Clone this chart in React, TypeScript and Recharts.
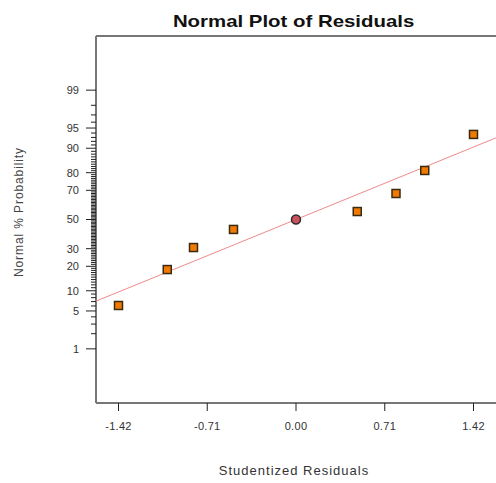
import React from 'react'
import { ScatterChart, Scatter, XAxis, YAxis, ReferenceLine } from 'recharts'

// studentized residuals and their normal % probability
const RESIDUALS = [-1.42, -1.03, -0.82, -0.5, 0.0, 0.49, 0.8, 1.03, 1.42]
const NORMAL_PCT = [6.1, 18.4, 30.7, 42.9, 50.0, 55.7, 68.0, 81.1, 93.7]

// reference line across the plot
const FIT_X = [-1.6, 1.6]
const FIT_PCT = [7.1, 92.9]

const X_TICKS = [-1.42, -0.71, 0, 0.71, 1.42]
const LABELED_PCT = [1, 5, 10, 20, 30, 50, 70, 80, 90, 95, 99]
const PCT_GRID = Array.from({ length: 99 }, (_, i) => i + 1)

const HIGHLIGHT_INDEX = 4
const Z_MIN = -3.3
const Z_MAX = 3.3

// inverse normal CDF (Acklam), maps a percent onto the probit axis
function probit(pct: number) {
  const p = pct / 100
  const a = [-39.6968302866538, 220.946098424521, -275.928510446969, 138.357751867269, -30.6647980661472, 2.50662827745924]
  const b = [-54.4760987982241, 161.585836858041, -155.698979859887, 66.8013118877197, -13.2806815528857]
  const c = [-0.00778489400243029, -0.322396458041136, -2.40075827716184, -2.54973253934373, 4.37466414146497, 2.93816398269878]
  const d = [0.00778469570904146, 0.32246712907004, 2.445134137143, 3.75440866190742]
  const lo = 0.02425
  if (p < lo) {
    const q = Math.sqrt(-2 * Math.log(p))
    return (((((c[0] * q + c[1]) * q + c[2]) * q + c[3]) * q + c[4]) * q + c[5]) /
      ((((d[0] * q + d[1]) * q + d[2]) * q + d[3]) * q + 1)
  }
  if (p > 1 - lo) {
    const q = Math.sqrt(-2 * Math.log(1 - p))
    return -(((((c[0] * q + c[1]) * q + c[2]) * q + c[3]) * q + c[4]) * q + c[5]) /
      ((((d[0] * q + d[1]) * q + d[2]) * q + d[3]) * q + 1)
  }
  const q = p - 0.5
  const r = q * q
  return (((((a[0] * r + a[1]) * r + a[2]) * r + a[3]) * r + a[4]) * r + a[5]) * q /
    (((((b[0] * r + b[1]) * r + b[2]) * r + b[3]) * r + b[4]) * r + 1)
}

const points = RESIDUALS.map((x, i) => ({ x, y: probit(NORMAL_PCT[i]), i }))
const fitLine = FIT_X.map((x, i) => ({ x, y: probit(FIT_PCT[i]) }))
const zTicks = PCT_GRID.map(probit)
const pctByZ = new Map(PCT_GRID.map((p) => [probit(p).toFixed(6), p]))

const FONT = '"Liberation Sans", Arial, sans-serif'

const ProbTick = (props: any) => {
  const { x, y, payload } = props
  const pct = pctByZ.get(Number(payload.value).toFixed(6)) ?? 0
  const major = LABELED_PCT.includes(pct)
  return (
    <g>
      <line x1={x - (major ? 10 : 5)} x2={x} y1={y} y2={y} stroke="#222" strokeWidth={1} />
      {major && (
        <text x={x - 17} y={y} dy="0.35em" textAnchor="end" fontSize={11} fill="#333" fontFamily={FONT}>
          {pct}
        </text>
      )}
    </g>
  )
}

const PointMark = (props: any) => {
  const { cx, cy, payload } = props
  if (payload.i === HIGHLIGHT_INDEX) {
    return <circle cx={cx} cy={cy} r={4.5} fill="#c9525e" stroke="#2b2b2b" strokeWidth={1.5} />
  }
  return <rect x={cx - 4} y={cy - 4} width={8} height={8} fill="#f07a00" stroke="#3b2a12" strokeWidth={1.5} />
}

export default function App() {
  return (
    <div
      style={{
        position: 'absolute', left: 0, top: 0, width: 496, height: 483,
        overflow: 'hidden', background: '#fff', fontFamily: FONT,
      }}
    >
      <ScatterChart width={520} height={483} margin={{ top: 36, right: 24, bottom: 20, left: 0 }}>
        <XAxis
          type="number" dataKey="x" domain={[-1.6, 1.6]} ticks={X_TICKS} interval={0}
          allowDataOverflow height={60}
          axisLine={{ stroke: '#777', strokeWidth: 2 }}
          tickLine={{ stroke: '#222' }} tickSize={8} tickMargin={11}
          tick={{ fill: '#333', fontSize: 11, fontFamily: FONT, letterSpacing: 0.3 }}
          tickFormatter={(v: number) => v.toFixed(2)}
        />
        <YAxis
          type="number" dataKey="y" domain={[Z_MIN, Z_MAX]} ticks={zTicks} interval={0}
          allowDataOverflow width={96}
          axisLine={{ stroke: '#777', strokeWidth: 2 }}
          tickLine={false} tickSize={0} tickMargin={0}
          tick={<ProbTick />}
        />
        <ReferenceLine y={Z_MAX} stroke="#777" strokeWidth={2} ifOverflow="extendDomain" />
        <Scatter
          data={fitLine} line={{ stroke: '#f08a8a', strokeWidth: 1 }}
          shape={() => <g />} isAnimationActive={false} legendType="none"
        />
        <Scatter data={points} shape={<PointMark />} isAnimationActive={false} />
      </ScatterChart>

      <div
        style={{
          position: 'absolute', left: 94, top: 12, width: 400, textAlign: 'center',
          fontSize: 17, lineHeight: '20px', fontWeight: 'bold', color: '#111',
        }}
      >
        <span style={{ display: 'inline-block', transform: 'scaleX(1.2)' }}>Normal Plot of Residuals</span>
      </div>
      <div
        style={{
          position: 'absolute', left: 94, top: 463, width: 400, textAlign: 'center',
          fontSize: 13, lineHeight: '16px', letterSpacing: 1, color: '#333',
        }}
      >
        Studentized Residuals
      </div>
      <div
        style={{
          position: 'absolute', left: 19 - 100, top: 212 - 8, width: 200, height: 16,
          textAlign: 'center', fontSize: 12, lineHeight: '16px', letterSpacing: 0.9,
          color: '#444', transform: 'rotate(-90deg)',
        }}
      >
        Normal % Probability
      </div>
    </div>
  )
}
